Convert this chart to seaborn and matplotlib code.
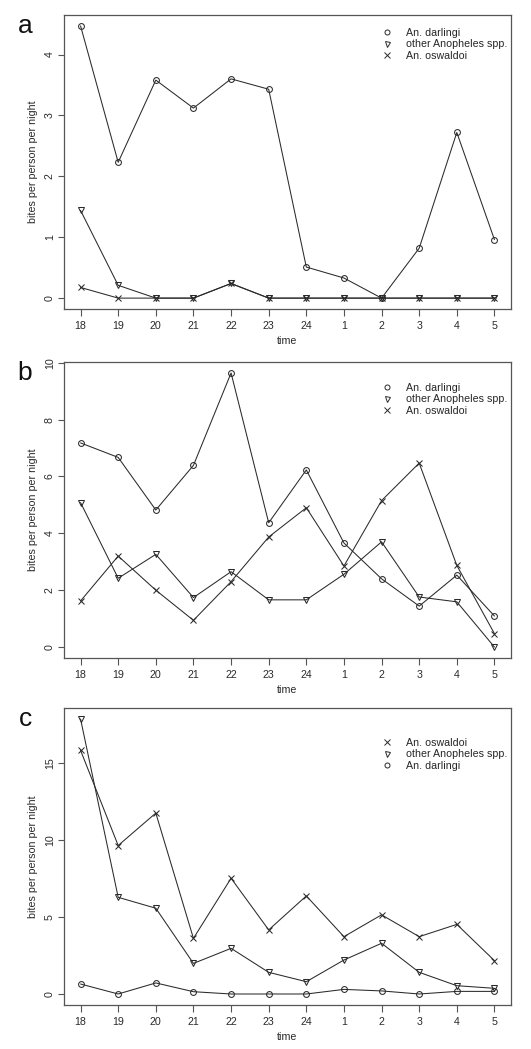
import numpy as np
import pandas as pd
import matplotlib
matplotlib.use("Agg")
import matplotlib.pyplot as plt
from matplotlib.lines import Line2D
import seaborn as sns

sns.set_style("ticks")
plt.rcParams['font.family'] = ['Liberation Sans', 'DejaVu Sans']

hours = ["18", "19", "20", "21", "22", "23", "24", "1", "2", "3", "4", "5"]

# Panel a
a_darlingi = [4.47, 2.23, 3.58, 3.12, 3.60, 3.43, 0.51, 0.33, 0.0, 0.82, 2.72, 0.96]
a_other = [1.44, 0.21, 0.0, 0.0, 0.24, 0.0, 0.0, 0.0, 0.0, 0.0, 0.0, 0.0]
a_oswaldoi = [0.175, 0.0, 0.0, 0.0, 0.24, 0.0, 0.0, 0.0, 0.0, 0.0, 0.0, 0.0]

# Panel b
b_darlingi = [7.18, 6.67, 4.82, 6.39, 9.64, 4.37, 6.23, 3.66, 2.40, 1.44, 2.53, 1.09]
b_other = [5.08, 2.42, 3.26, 1.74, 2.65, 1.66, 1.66, 2.56, 3.70, 1.76, 1.59, 0.0]
b_oswaldoi = [1.62, 3.20, 2.00, 0.94, 2.30, 3.87, 4.90, 2.85, 5.15, 6.47, 2.87, 0.47]

# Panel c
c_oswaldoi = [15.85, 9.66, 11.77, 3.62, 7.53, 4.17, 6.38, 3.73, 5.15, 3.73, 4.53, 2.17]
c_other = [17.89, 6.29, 5.58, 1.99, 2.97, 1.41, 0.80, 2.21, 3.30, 1.41, 0.54, 0.37]
c_darlingi = [0.65, 0.0, 0.72, 0.15, 0.0, 0.0, 0.0, 0.30, 0.20, 0.0, 0.17, 0.17]

labels_ab = ["An. darlingi", "other Anopheles spp.", "An. oswaldoi"]
labels_c = ["An. oswaldoi", "other Anopheles spp.", "An. darlingi"]

yticks_a = [0, 1, 2, 3, 4]
yticks_b = [0, 2, 4, 6, 8, 10]
yticks_c = [0, 5, 10, 15]

markers = {"An. darlingi": "o", "other Anopheles spp.": "v", "An. oswaldoi": "x"}
col = "#2a2a2a"
FS = 7.7

fig = plt.figure(figsize=(5.31, 10.49), dpi=100)
W, H = 531, 1049
def box(l, t, r, b):
    return [l / W, 1 - b / H, (r - l) / W, (b - t) / H]

panels = [
    ("a", box(64, 15, 511, 309), {"An. darlingi": a_darlingi, "other Anopheles spp.": a_other, "An. oswaldoi": a_oswaldoi}, labels_ab, yticks_a, 0.972),
    ("b", box(64, 362, 511, 658), {"An. darlingi": b_darlingi, "other Anopheles spp.": b_other, "An. oswaldoi": b_oswaldoi}, labels_ab, yticks_b, 0.945),
    ("c", box(64, 708, 511, 1005), {"An. oswaldoi": c_oswaldoi, "other Anopheles spp.": c_other, "An. darlingi": c_darlingi}, labels_c, yticks_c, 0.915),
]

xpos = np.arange(len(hours))
for letter, rect, series, leg_labels, yt, legy in panels:
    ax = fig.add_axes(rect)
    allv = []
    for name, vals in series.items():
        df = pd.DataFrame({"x": xpos, "y": vals})
        mk = markers[name]
        sns.lineplot(data=df, x="x", y="y", ax=ax, color=col, lw=0.75,
                     marker=mk, markersize=4.2 if mk != "x" else 5,
                     markerfacecolor="none", markeredgecolor=col, markeredgewidth=0.75)
        allv += vals
    lo, hi = 0.0, max(allv)
    pad = 0.04 * (hi - lo)
    ax.set_ylim(lo - pad, hi + pad)
    ax.set_xlim(-0.44, len(hours) - 1 + 0.44)
    ax.set_xticks(xpos)
    ax.set_xticklabels(hours)
    ax.set_yticks(yt)
    ax.set_yticklabels([str(v) for v in yt], rotation=90, va="center")
    ax.tick_params(axis="x", length=5, width=0.8, color="#555555", labelsize=FS, labelcolor=col, pad=3.5)
    ax.tick_params(axis="y", length=4.5, width=0.8, color="#555555", labelsize=FS, labelcolor=col, pad=2)
    for s in ax.spines.values():
        s.set_linewidth(0.9)
        s.set_color("#555555")
    ax.set_xlabel("time", fontsize=FS, color=col, labelpad=4)
    ax.set_ylabel("bites per person per night", fontsize=FS, color=col, labelpad=5)
    handles = [Line2D([], [], ls="none", marker=markers[n], markersize=3.6 if markers[n] != "x" else 4.2,
                      markerfacecolor="none", markeredgecolor=col, markeredgewidth=0.7) for n in leg_labels]
    ax.legend(handles, leg_labels, frameon=False, loc="upper left",
              bbox_to_anchor=((377 - 64) / 447, legy), fontsize=FS, handlelength=1.0,
              handletextpad=1.3, labelspacing=0.17, borderaxespad=0)
    ax.text(-39 / 447, 1.005, letter, transform=ax.transAxes, fontsize=19, va="top", ha="center", color="#111111")

fig.savefig("out.png", dpi=100)
